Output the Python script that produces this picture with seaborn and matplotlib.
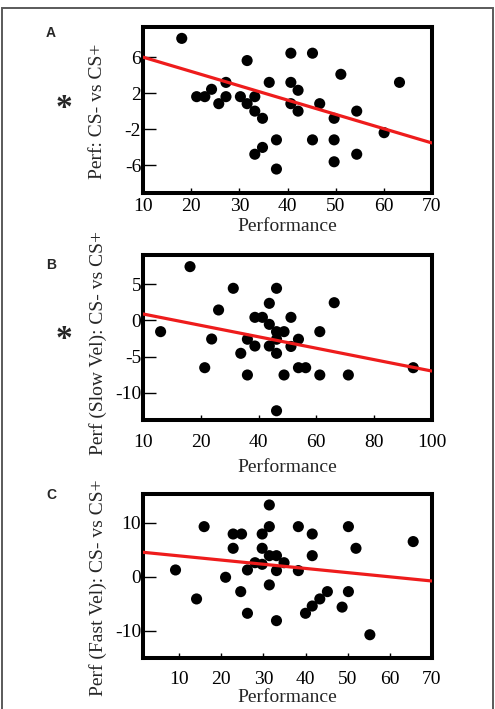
import numpy as np
import pandas as pd
import matplotlib
matplotlib.use("Agg")
import matplotlib.pyplot as plt
import seaborn as sns
from matplotlib.patches import Rectangle

# ---------------- data ----------------
a_perf = [18.0, 40.7, 45.2, 31.6, 51.1, 63.3, 27.2, 36.2, 40.7, 24.2, 42.2, 21.1,
          22.8, 27.2, 30.2, 33.2, 25.7, 31.6, 40.7, 46.7, 33.2, 42.2, 54.4, 34.8,
          49.7, 60.1, 37.7, 45.2, 49.7, 34.8, 33.2, 54.4, 49.7, 37.7]
a_diff = [8.1, 6.45, 6.45, 5.63, 4.1, 3.2, 3.2, 3.2, 3.2, 2.43, 2.32, 1.61,
          1.61, 1.61, 1.61, 1.61, 0.83, 0.83, 0.83, 0.83, 0.0, 0.0, 0.0, -0.8,
          -0.8, -2.4, -3.2, -3.2, -3.2, -4.04, -4.8, -4.8, -5.64, -6.45]
a_fit = (7.59, -0.159)  # intercept, slope

b_perf = [16.2, 31.2, 46.2, 43.7, 66.2, 26.1, 38.7, 41.3, 51.2, 43.7, 6.0, 46.2,
          48.8, 61.2, 46.2, 23.7, 36.1, 53.8, 38.7, 43.7, 51.2, 33.8, 46.2, 21.3,
          53.8, 56.3, 93.6, 36.1, 48.8, 61.2, 71.1, 46.2]
b_diff = [7.45, 4.45, 4.45, 2.37, 2.46, 1.45, 0.43, 0.43, 0.43, -0.54, -1.55, -1.55,
          -1.55, -1.55, -2.6, -2.57, -2.6, -2.6, -3.54, -3.54, -3.6, -4.55, -4.55, -6.54,
          -6.54, -6.54, -6.54, -7.55, -7.55, -7.55, -7.55, -12.5]
b_fit = (0.89, -0.0789)

c_perf = [31.4, 15.9, 31.4, 38.3, 50.2, 22.8, 24.8, 29.7, 41.6, 65.6, 22.8, 29.7,
          52.0, 31.4, 33.1, 41.6, 28.0, 29.7, 34.9, 9.1, 26.2, 33.1, 38.3, 21.0,
          31.4, 24.6, 45.2, 50.2, 14.1, 43.4, 41.6, 48.7, 26.2, 40.0, 33.1, 55.3]
c_diff = [13.26, 9.26, 9.26, 9.26, 9.26, 7.9, 7.9, 7.9, 7.9, 6.5, 5.26, 5.26,
          5.26, 3.9, 3.9, 3.9, 2.6, 2.3, 2.6, 1.26, 1.26, 1.14, 1.14, -0.09,
          -1.5, -2.74, -2.74, -2.74, -4.09, -4.09, -5.4, -5.6, -6.74, -6.74, -8.1, -10.7]
c_fit = (4.63, -0.0772)

a_xticks = [10, 20, 30, 40, 50, 60, 70]
a_yticks = [-6, -2, 2, 6]
b_xticks = [0, 20, 40, 60, 80, 100]
b_xticklabels = ["10", "20", "40", "60", "80", "100"]
b_yticks = [-10, -5, 0, 5]
c_xticks = [10, 20, 30, 40, 50, 60, 70]
c_yticks = [-10, 0, 10]

panel_letters = ["A", "B", "C"]
ylabels = ["Perf: CS- vs CS+", "Perf (Slow Vel): CS- vs CS+", "Perf (Fast Vel): CS- vs CS+"]
xlabel = "Performance"
stars = ["*", "*", ""]

# ---------------- figure ----------------
sns.set_style("white")
plt.rcParams["font.family"] = ["Liberation Serif", "DejaVu Serif"]
plt.rcParams["axes.unicode_minus"] = False

W, H = 495, 709
fig = plt.figure(figsize=(W / 100, H / 100), dpi=100)

def fx(px):
    return px / W

def fy(py):
    return 1 - py / H

# frame around the figure
fig.patches.append(Rectangle((fx(1.5), fy(740)), fx(491), (740 - 8) / H,
                             transform=fig.transFigure, fill=False,
                             edgecolor="#5a5a5a", linewidth=1.4))

left, right = 143.3, 431.7
panels = [
    dict(top=26.7, bot=193.3, x=a_perf, y=a_diff, fit=a_fit, xlim=(10, 70), ylim=(-9.15, 9.4),
         xt=a_xticks, xtl=None, yt=a_yticks, xpad=3.5, xlab_y=227, ylab_y=0.49,
         letter_y=33, star_y=108),
    dict(top=255, bot=420, x=b_perf, y=b_diff, fit=b_fit, xlim=(0, 100), ylim=(-13.78, 9.06),
         xt=b_xticks, xtl=b_xticklabels, yt=b_yticks, xpad=10, xlab_y=467, ylab_y=0.465,
         letter_y=265, star_y=340),
    dict(top=494.3, bot=658.3, x=c_perf, y=c_diff, fit=c_fit, xlim=(1.44, 70), ylim=(-15.05, 15.23),
         xt=c_xticks, xtl=None, yt=c_yticks, xpad=9.5, xlab_y=698, ylab_y=0.43,
         letter_y=495, star_y=None),
]

for i, p in enumerate(panels):
    ax = fig.add_axes([fx(left), fy(p["bot"]), fx(right - left), (p["bot"] - p["top"]) / H])
    df = pd.DataFrame({"perf": p["x"], "diff": p["y"]})
    sns.scatterplot(data=df, x="perf", y="diff", ax=ax, color="black", s=64,
                    edgecolor="none", linewidth=0, zorder=3)
    xs = np.array(p["xlim"])
    fit_df = pd.DataFrame({"perf": xs, "diff": p["fit"][0] + p["fit"][1] * xs})
    sns.lineplot(data=fit_df, x="perf", y="diff", ax=ax, color="#ee1c1c", linewidth=2.3,
                 zorder=4)
    ax.set_xlim(*p["xlim"])
    ax.set_ylim(*p["ylim"])
    ax.set_xticks(p["xt"])
    if p["xtl"] is not None:
        ax.set_xticklabels(p["xtl"])
    ax.set_yticks(p["yt"])
    for sp in ax.spines.values():
        sp.set_linewidth(2.9)
        sp.set_color("black")
    ax.tick_params(axis="y", direction="in", length=9.5, width=1.0, pad=1.5,
                   labelsize=14, colors="black", left=True)
    ax.tick_params(axis="x", direction="in", length=3.8, width=1.0, pad=p["xpad"],
                   labelsize=14, colors="black", bottom=True)
    ax.set_xlabel(xlabel, fontsize=14, va="center")
    ax.xaxis.set_label_coords(0.5, -(p["xlab_y"] - p["bot"]) / (p["bot"] - p["top"]))
    ax.set_ylabel(ylabels[i], fontsize=14, va="center")
    ax.yaxis.set_label_coords((98 - left) / (right - left), p["ylab_y"])
    ax.set_facecolor("white")

    fig.text(fx(51), fy(p["letter_y"]), panel_letters[i], ha="center", va="center",
             fontsize=10, fontweight="bold", family=["Liberation Sans", "DejaVu Sans"])
    if p["star_y"] is not None:
        fig.text(fx(64), fy(p["star_y"]), stars[i], ha="center", va="center",
                 fontsize=24, fontweight="bold")

fig.savefig("out.png", dpi=100, facecolor="white")
